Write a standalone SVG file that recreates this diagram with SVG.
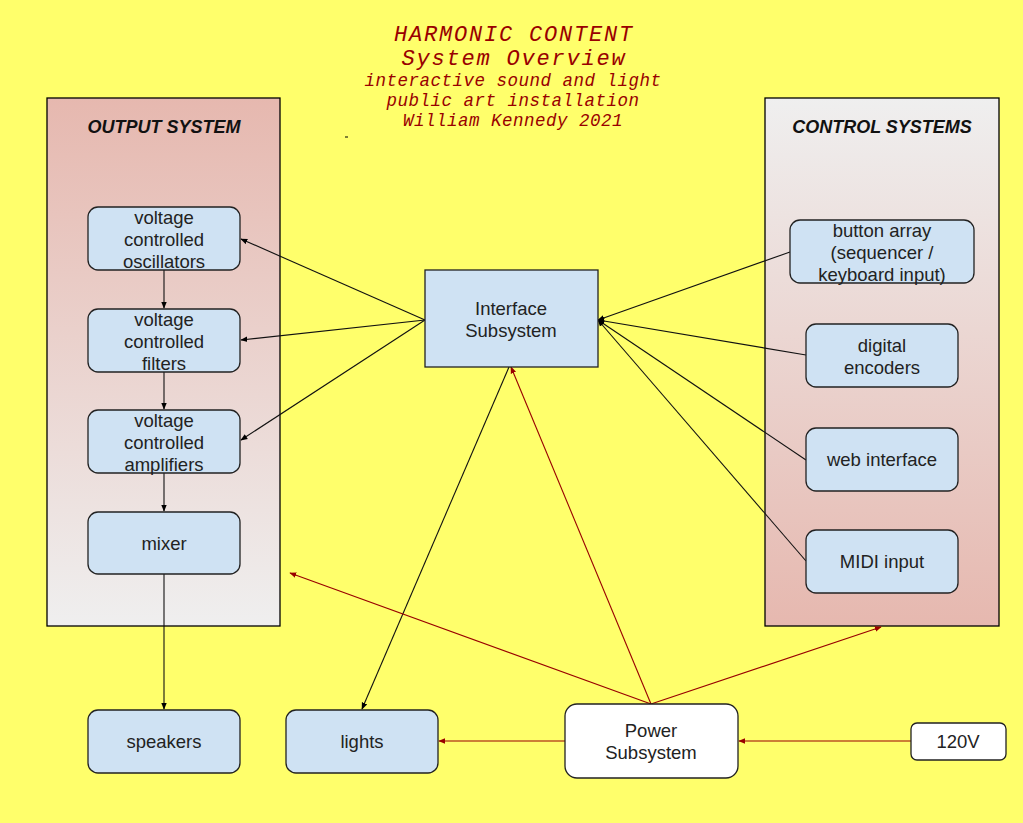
<svg xmlns="http://www.w3.org/2000/svg" width="1023" height="823" viewBox="0 0 1023 823">
<defs>
<linearGradient id="gOut" x1="0" y1="0" x2="0" y2="1"><stop offset="0" stop-color="#e6b8af"/><stop offset="1" stop-color="#efefef"/></linearGradient>
<linearGradient id="gCtl" x1="0" y1="0" x2="0" y2="1"><stop offset="0" stop-color="#efefef"/><stop offset="1" stop-color="#e6b8af"/></linearGradient>
<marker id="ab" viewBox="0 0 10 10" refX="9" refY="5" markerWidth="7" markerHeight="7" orient="auto" markerUnits="userSpaceOnUse"><path d="M0,1 L10,5 L0,9 z" fill="#000"/></marker>
<marker id="ar" viewBox="0 0 10 10" refX="9" refY="5" markerWidth="7" markerHeight="7" orient="auto" markerUnits="userSpaceOnUse"><path d="M0,1 L10,5 L0,9 z" fill="#990000"/></marker>
</defs>
<style>
.panel{stroke:#000;stroke-width:1.3}
.node{fill:#cfe2f3;stroke:#222;stroke-width:1.3}
.wnode{fill:#fff;stroke:#222;stroke-width:1.3}
.t{font-family:"Liberation Sans",Arial,sans-serif;font-size:18.5px;fill:#222;text-anchor:middle}
.pt{font-family:"Liberation Sans",Arial,sans-serif;font-size:18px;font-weight:bold;font-style:italic;fill:#111;text-anchor:middle}
.title{font-family:"Liberation Mono","DejaVu Sans Mono",monospace;font-style:italic;fill:#990000;text-anchor:middle}
.h1{font-size:22px;letter-spacing:1.8px}
.h2{font-size:17.5px;letter-spacing:0.5px}
.cb{stroke:#111;stroke-width:1.1;fill:none;marker-end:url(#ab)}
.cr{stroke:#990000;stroke-width:1.1;fill:none;marker-end:url(#ar)}
</style>
<rect width="1023" height="823" fill="#ffff6b"/>
<g id="title">
<text class="title h1" x="514" y="41">HARMONIC CONTENT</text>
<text class="title h1" x="514" y="65">System Overview</text>
<text class="title h2" x="513" y="86">interactive sound and light</text>
<text class="title h2" x="513" y="106">public art installation</text>
<text class="title h2" x="513" y="126">William Kennedy 2021</text>
<line x1="345" y1="137" x2="348" y2="137" stroke="#000" stroke-width="1"/>
</g>
<g id="output-system">
<rect class="panel" x="47" y="98" width="233" height="528" fill="url(#gOut)"/>
<text class="pt" x="164" y="133">OUTPUT SYSTEM</text>
</g>
<g id="control-systems">
<rect class="panel" x="765" y="98" width="234" height="528" fill="url(#gCtl)"/>
<text class="pt" x="882" y="133">CONTROL SYSTEMS</text>
</g>
<g id="connectors">
<line class="cb" x1="425" y1="320" x2="241" y2="239"/>
<line class="cb" x1="425" y1="320" x2="241" y2="340"/>
<line class="cb" x1="425" y1="320" x2="241" y2="440"/>
<line class="cb" x1="164" y1="270" x2="164" y2="308"/>
<line class="cb" x1="164" y1="372" x2="164" y2="409"/>
<line class="cb" x1="164" y1="473" x2="164" y2="511"/>
<line class="cb" x1="164" y1="574" x2="164" y2="709"/>
<line class="cb" x1="509" y1="367" x2="362" y2="709"/>
<line class="cb" x1="790" y1="252" x2="598" y2="320"/>
<line class="cb" x1="806" y1="355" x2="598" y2="320"/>
<line class="cb" x1="806" y1="460" x2="598" y2="320"/>
<line class="cb" x1="806" y1="561" x2="598" y2="320"/>
<line class="cr" x1="651" y1="704" x2="511" y2="367"/>
<line class="cr" x1="651" y1="704" x2="290" y2="573"/>
<line class="cr" x1="651" y1="704" x2="881" y2="627"/>
<line class="cr" x1="565" y1="741" x2="439" y2="741"/>
<line class="cr" x1="911" y1="741" x2="739" y2="741"/>
</g>
<g id="vco"><rect class="node" x="88" y="207" width="152" height="63" rx="10"/><text class="t" x="164" y="224">voltage</text><text class="t" x="164" y="246">controlled</text><text class="t" x="164" y="268">oscillators</text></g>
<g id="vcf"><rect class="node" x="88" y="309" width="152" height="63" rx="10"/><text class="t" x="164" y="326">voltage</text><text class="t" x="164" y="348">controlled</text><text class="t" x="164" y="370">filters</text></g>
<g id="vca"><rect class="node" x="88" y="410" width="152" height="63" rx="10"/><text class="t" x="164" y="427">voltage</text><text class="t" x="164" y="449">controlled</text><text class="t" x="164" y="471">amplifiers</text></g>
<g id="mixer"><rect class="node" x="88" y="512" width="152" height="62" rx="10"/><text class="t" x="164" y="550">mixer</text></g>
<g id="speakers"><rect class="node" x="88" y="710" width="152" height="63" rx="10"/><text class="t" x="164" y="748">speakers</text></g>
<g id="lights"><rect class="node" x="286" y="710" width="152" height="63" rx="10"/><text class="t" x="362" y="748">lights</text></g>
<g id="interface"><rect class="node" x="425" y="270" width="173" height="97"/><text class="t" x="511" y="315">Interface</text><text class="t" x="511" y="337">Subsystem</text></g>
<g id="power"><rect class="wnode" x="565" y="704" width="173" height="74" rx="12"/><text class="t" x="651" y="737">Power</text><text class="t" x="651" y="759">Subsystem</text></g>
<g id="v120"><rect class="wnode" x="911" y="723" width="95" height="37" rx="6"/><text class="t" x="958" y="748">120V</text></g>
<g id="button-array"><rect class="node" x="790" y="220" width="184" height="63" rx="10"/><text class="t" x="882" y="237">button array</text><text class="t" x="882" y="259">(sequencer /</text><text class="t" x="882" y="281">keyboard input)</text></g>
<g id="digital-encoders"><rect class="node" x="806" y="324" width="152" height="63" rx="10"/><text class="t" x="882" y="352">digital</text><text class="t" x="882" y="374">encoders</text></g>
<g id="web-interface"><rect class="node" x="806" y="428" width="152" height="63" rx="10"/><text class="t" x="882" y="466">web interface</text></g>
<g id="midi-input"><rect class="node" x="806" y="530" width="152" height="63" rx="10"/><text class="t" x="882" y="568">MIDI input</text></g>
</svg>
